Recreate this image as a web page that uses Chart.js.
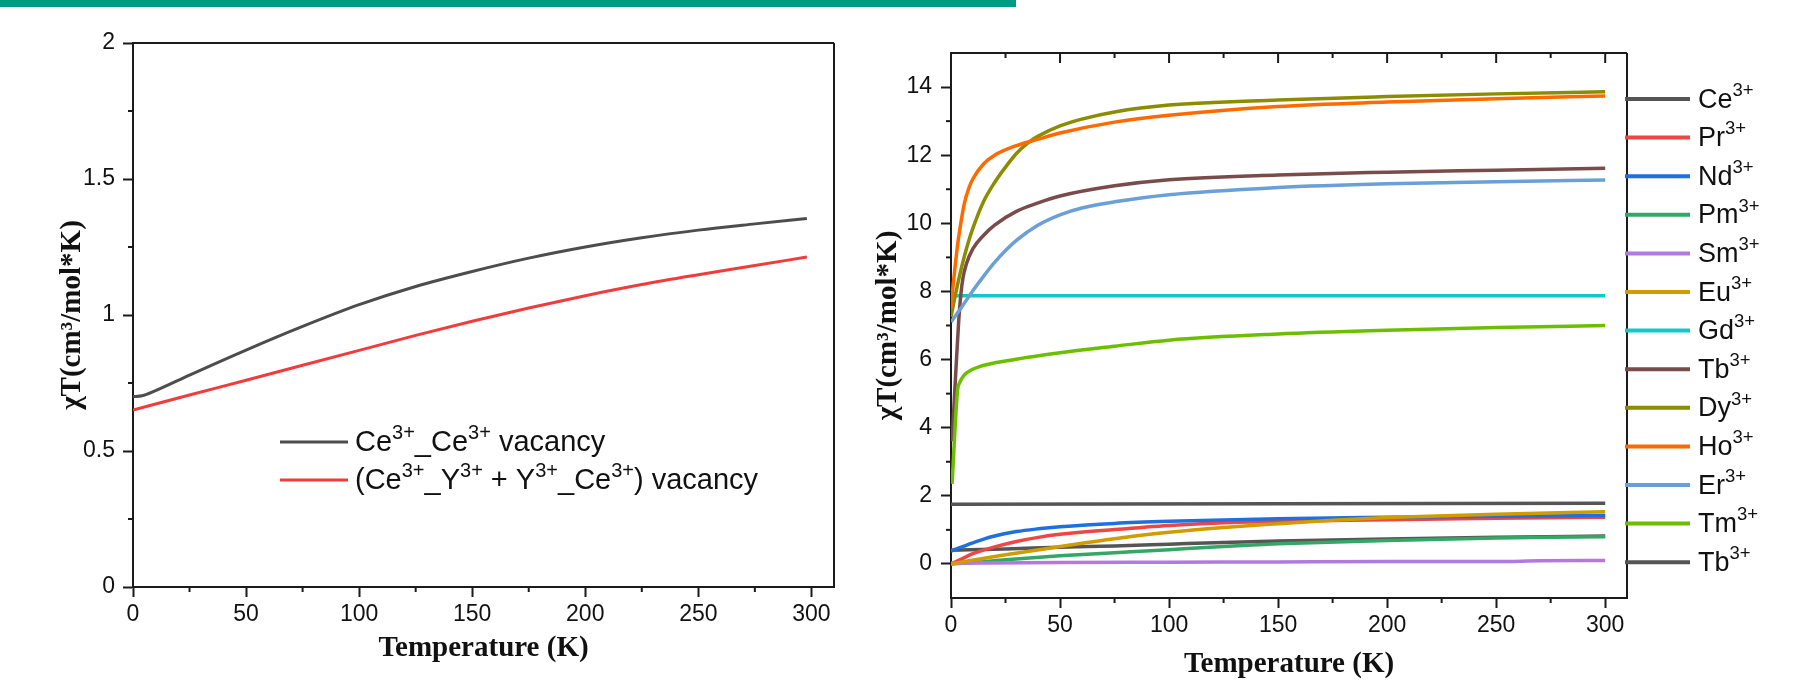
<!DOCTYPE html>
<html>
<head>
<meta charset="utf-8">
<script src="https://cdn.jsdelivr.net/npm/chart.js@4.4.1/dist/chart.umd.min.js"></script>
<style>
  html, body { margin: 0; padding: 0; background: #fff; }
  body { width: 1800px; height: 685px; position: relative; overflow: hidden; }
  #bar { position: absolute; left: 0; top: 0; width: 1016px; height: 7px; background: #009a87; }
  #left { position: absolute; left: 0; top: 0; }
  #right { position: absolute; left: 860px; top: 0; }
</style>
</head>
<body>
<div id="bar"></div>
<canvas id="left" width="900" height="685"></canvas>
<canvas id="right" width="940" height="685"></canvas>
<script>
"use strict";

// ---- left panel data ----
const ceCeTemps = [0, 4, 10, 25, 50, 75, 100, 125, 150, 175, 200, 225, 250, 275, 298];
const ceCeVacancy = [0.700, 0.703, 0.722, 0.779, 0.871, 0.958, 1.038, 1.105, 1.160, 1.209, 1.250, 1.284, 1.312, 1.335, 1.355];
const ceYTemps = [0, 25, 50, 75, 100, 125, 150, 175, 200, 225, 250, 275, 298];
const ceYVacancy = [0.651, 0.706, 0.760, 0.815, 0.870, 0.925, 0.977, 1.026, 1.071, 1.112, 1.148, 1.182, 1.213];
const leftLabels = ["Ce^3+^_Ce^3+^ vacancy", "(Ce^3+^_Y^3+^ + Y^3+^_Ce^3+^) vacancy"];
const leftXTicks = [0, 50, 100, 150, 200, 250, 300];
const leftXMinor = [25, 75, 125, 175, 225, 275];
const leftYTicks = [0, 0.5, 1, 1.5, 2];
const leftYMinor = [0.25, 0.75, 1.25, 1.75];

// ---- right panel data ----
const ions = ["Ce", "Pr", "Nd", "Pm", "Sm", "Eu", "Gd", "Tb", "Dy", "Ho", "Er", "Tm", "Tb"];
const ceT = [0, 25, 50, 75, 100, 125, 150, 200, 250, 300];
const ce = [0.40, 0.44, 0.49, 0.53, 0.58, 0.63, 0.67, 0.73, 0.78, 0.82];
const prT = [0, 5, 10, 20, 30, 40, 50, 75, 100, 125, 150, 200, 250, 300];
const pr = [0, 0.15, 0.30, 0.50, 0.66, 0.78, 0.87, 1.01, 1.13, 1.21, 1.25, 1.30, 1.34, 1.37];
const ndT = [0, 5, 10, 15, 20, 30, 40, 50, 75, 100, 150, 200, 250, 300];
const nd = [0.38, 0.50, 0.62, 0.73, 0.82, 0.95, 1.03, 1.09, 1.19, 1.25, 1.33, 1.37, 1.40, 1.42];
const pmT = [0, 10, 25, 50, 75, 100, 125, 150, 200, 250, 300];
const pm = [0, 0.04, 0.12, 0.24, 0.33, 0.42, 0.51, 0.59, 0.69, 0.76, 0.80];
const smT = [0, 50, 100, 150, 200, 250, 270, 300];
const sm = [0.02, 0.04, 0.05, 0.06, 0.07, 0.07, 0.09, 0.10];
const euT = [0, 25, 50, 75, 100, 125, 150, 175, 200, 250, 300];
const eu = [0, 0.27, 0.51, 0.74, 0.93, 1.07, 1.18, 1.28, 1.36, 1.46, 1.53];
const gdT = [0, 300];
const gd = [7.87, 7.87];
const tbT = [0.5, 2, 3.5, 4.5, 5.5, 7, 10, 15, 20, 30, 40, 50, 75, 100, 150, 200, 250, 300];
const tb = [3.6, 5.4, 7.1, 7.9, 8.4, 8.8, 9.25, 9.65, 9.95, 10.35, 10.6, 10.8, 11.1, 11.28, 11.42, 11.5, 11.56, 11.62];
const dyT = [0, 2.5, 5, 7.5, 10, 15, 20, 25, 30, 35, 40, 50, 60, 75, 100, 150, 200, 250, 300];
const dy = [7.25, 8.05, 8.75, 9.35, 9.85, 10.65, 11.2, 11.65, 12.05, 12.35, 12.56, 12.86, 13.06, 13.27, 13.47, 13.62, 13.72, 13.8, 13.86];
const hoT = [0, 1, 2, 3, 4, 6, 8, 10, 15, 20, 30, 40, 50, 75, 100, 150, 200, 250, 300];
const ho = [7.5, 8.2, 8.8, 9.35, 9.8, 10.55, 11.0, 11.3, 11.75, 12.0, 12.28, 12.47, 12.65, 12.97, 13.17, 13.43, 13.56, 13.66, 13.74];
const erT = [0, 5, 10, 15, 20, 25, 30, 40, 50, 60, 75, 100, 150, 200, 250, 300];
const er = [7.1, 7.55, 8.02, 8.45, 8.85, 9.2, 9.5, 9.95, 10.25, 10.45, 10.63, 10.84, 11.05, 11.16, 11.22, 11.27];
const tmT = [0.5, 3, 4, 5, 7, 13, 28, 50, 75, 100, 150, 200, 250, 300];
const tm = [2.35, 5.1, 5.32, 5.45, 5.6, 5.79, 5.99, 6.2, 6.39, 6.57, 6.75, 6.86, 6.94, 7.0];
const tb2T = [0, 300];
const tb2 = [1.75, 1.78];
const rightTemps = [ceT, prT, ndT, pmT, smT, euT, gdT, tbT, dyT, hoT, erT, tmT, tb2T];
const rightValues = [ce, pr, nd, pm, sm, eu, gd, tb, dy, ho, er, tm, tb2];
const rightXTicks = [0, 50, 100, 150, 200, 250, 300];
const rightXMinor = [25, 75, 125, 175, 225, 275];
const rightYTicks = [0, 2, 4, 6, 8, 10, 12, 14];
const rightYMinor = [1, 3, 5, 7, 9, 11, 13];

// ---- styles ----
const leftColors = ["#4d4d4d", "#f03c3c"];
const ionColors = ["#555555", "#f04545", "#1f6fe0", "#33a866", "#b27ae0", "#d09c00", "#12c8c8",
  "#7a4b4b", "#8c8c00", "#ff6a00", "#6a9fd8", "#6cbf00", "#555555"];
const axisColor = "#1b1b1b";
const sans = "'Liberation Sans', Arial, sans-serif";
const tickFont = { family: sans, size: 23 };
const titleFont = { family: "'Liberation Serif', 'Times New Roman', serif", size: 29, weight: "bold", lineHeight: 1.2 };

function toPoints(xs, ys) {
  return xs.map((x, i) => ({ x: x, y: ys[i] }));
}

function drawRich(ctx, text, x, y, size, supSize) {
  text.split("^").forEach((part, i) => {
    const sup = i % 2 === 1;
    ctx.font = (sup ? supSize : size) + "px " + sans;
    ctx.fillText(part, x, sup ? y - size * 0.44 : y);
    x += ctx.measureText(part).width;
  });
}

function axis(horizontal, min, max, ticks, pad, title, titlePad, size) {
  return {
    type: "linear",
    min: min,
    max: max,
    afterBuildTicks: s => { s.ticks = ticks.map(v => ({ value: v })); },
    afterFit: s => { if (horizontal) s.height = size; else s.width = size; },
    border: { display: true, color: axisColor, width: 2 },
    grid: { drawOnChartArea: false, drawTicks: true, tickLength: 10, tickWidth: 2, tickColor: axisColor },
    ticks: { font: tickFont, color: "#111", padding: pad, autoSkip: false, maxRotation: 0, callback: v => String(v) },
    title: { display: true, text: title, font: titleFont, color: "#111", padding: titlePad }
  };
}

// frame, minor ticks and the superscript legend
const decorPlugin = {
  id: "decor",
  afterDraw(chart, args, opts) {
    const { ctx, chartArea: a, scales } = chart;
    const line = (x0, y0, x1, y1) => { ctx.beginPath(); ctx.moveTo(x0, y0); ctx.lineTo(x1, y1); ctx.stroke(); };
    ctx.save();
    ctx.strokeStyle = axisColor;
    ctx.lineWidth = 2;
    line(a.left - 1, a.top, a.right, a.top);
    line(a.right, a.top, a.right, a.bottom + 1);
    opts.xMinor.forEach(v => { const px = scales.x.getPixelForValue(v); line(px, a.bottom, px, a.bottom + 5); });
    opts.yMinor.forEach(v => { const py = scales.y.getPixelForValue(v); line(a.left - 5, py, a.left, py); });
    if (opts.topTicks) {
      opts.xMajor.forEach(v => { const px = scales.x.getPixelForValue(v); line(px, a.top, px, a.top + 10); });
      opts.xMinor.forEach(v => { const px = scales.x.getPixelForValue(v); line(px, a.top, px, a.top + 5); });
    }
    const lg = opts.legend;
    chart.data.datasets.forEach((ds, i) => {
      const y = lg.y0 + i * lg.dy;
      ctx.strokeStyle = ds.borderColor;
      ctx.lineWidth = lg.lineWidth;
      line(lg.x0, y, lg.x1, y);
      ctx.fillStyle = "#111";
      ctx.textBaseline = "alphabetic";
      drawRich(ctx, lg.labels[i], lg.textX, y + lg.size * 0.32, lg.size, lg.supSize);
    });
    ctx.restore();
  }
};

const leftChart = new Chart(document.getElementById("left"), {
  type: "line",
  data: {
    datasets: [
      { label: leftLabels[0], data: toPoints(ceCeTemps, ceCeVacancy), borderColor: leftColors[0], borderWidth: 3, order: 0 },
      { label: leftLabels[1], data: toPoints(ceYTemps, ceYVacancy), borderColor: leftColors[1], borderWidth: 3, order: -1 }
    ]
  },
  options: {
    responsive: false,
    animation: false,
    layout: { padding: { top: 43, right: 66, left: 0, bottom: 0 } },
    elements: { point: { radius: 0 }, line: { cubicInterpolationMode: "monotone" } },
    scales: {
      x: axis(true, 0, 310, leftXTicks, 4, "Temperature (K)", { top: 0, bottom: 18.6 }, 98),
      y: axis(false, 0, 2, leftYTicks, 8, "χT(cm³/mol*K)", { top: 55.6, bottom: 0 }, 133)
    },
    plugins: {
      legend: { display: false },
      tooltip: { enabled: false },
      decor: {
        xMajor: leftXTicks, xMinor: leftXMinor, yMinor: leftYMinor, topTicks: false,
        legend: { labels: leftLabels, x0: 280, x1: 348, textX: 355, y0: 442, dy: 38, lineWidth: 3, size: 29, supSize: 20 }
      }
    }
  },
  plugins: [decorPlugin]
});

const rightChart = new Chart(document.getElementById("right"), {
  type: "line",
  data: {
    datasets: rightValues.map((vals, i) => ({
      label: ions[i] + "^3+",
      data: toPoints(rightTemps[i], vals),
      borderColor: ionColors[i],
      borderWidth: 3.5,
      order: -i
    }))
  },
  options: {
    responsive: false,
    animation: false,
    layout: { padding: { top: 53, right: 173, left: 0, bottom: 0 } },
    elements: { point: { radius: 0 }, line: { cubicInterpolationMode: "monotone" } },
    scales: {
      x: axis(true, 0, 310, rightXTicks, 4, "Temperature (K)", { top: 0, bottom: 2.6 }, 87),
      y: axis(false, -1, 15, rightYTicks, 9, "χT(cm³/mol*K)", { top: 11.6, bottom: 0 }, 91)
    },
    plugins: {
      legend: { display: false },
      tooltip: { enabled: false },
      decor: {
        xMajor: rightXTicks, xMinor: rightXMinor, yMinor: rightYMinor, topTicks: true,
        legend: { labels: ions.map(n => n + "^3+"), x0: 765, x1: 830, textX: 838, y0: 99, dy: 38.6, lineWidth: 4, size: 27, supSize: 18.5 }
      }
    }
  },
  plugins: [decorPlugin]
});
</script>
</body>
</html>
